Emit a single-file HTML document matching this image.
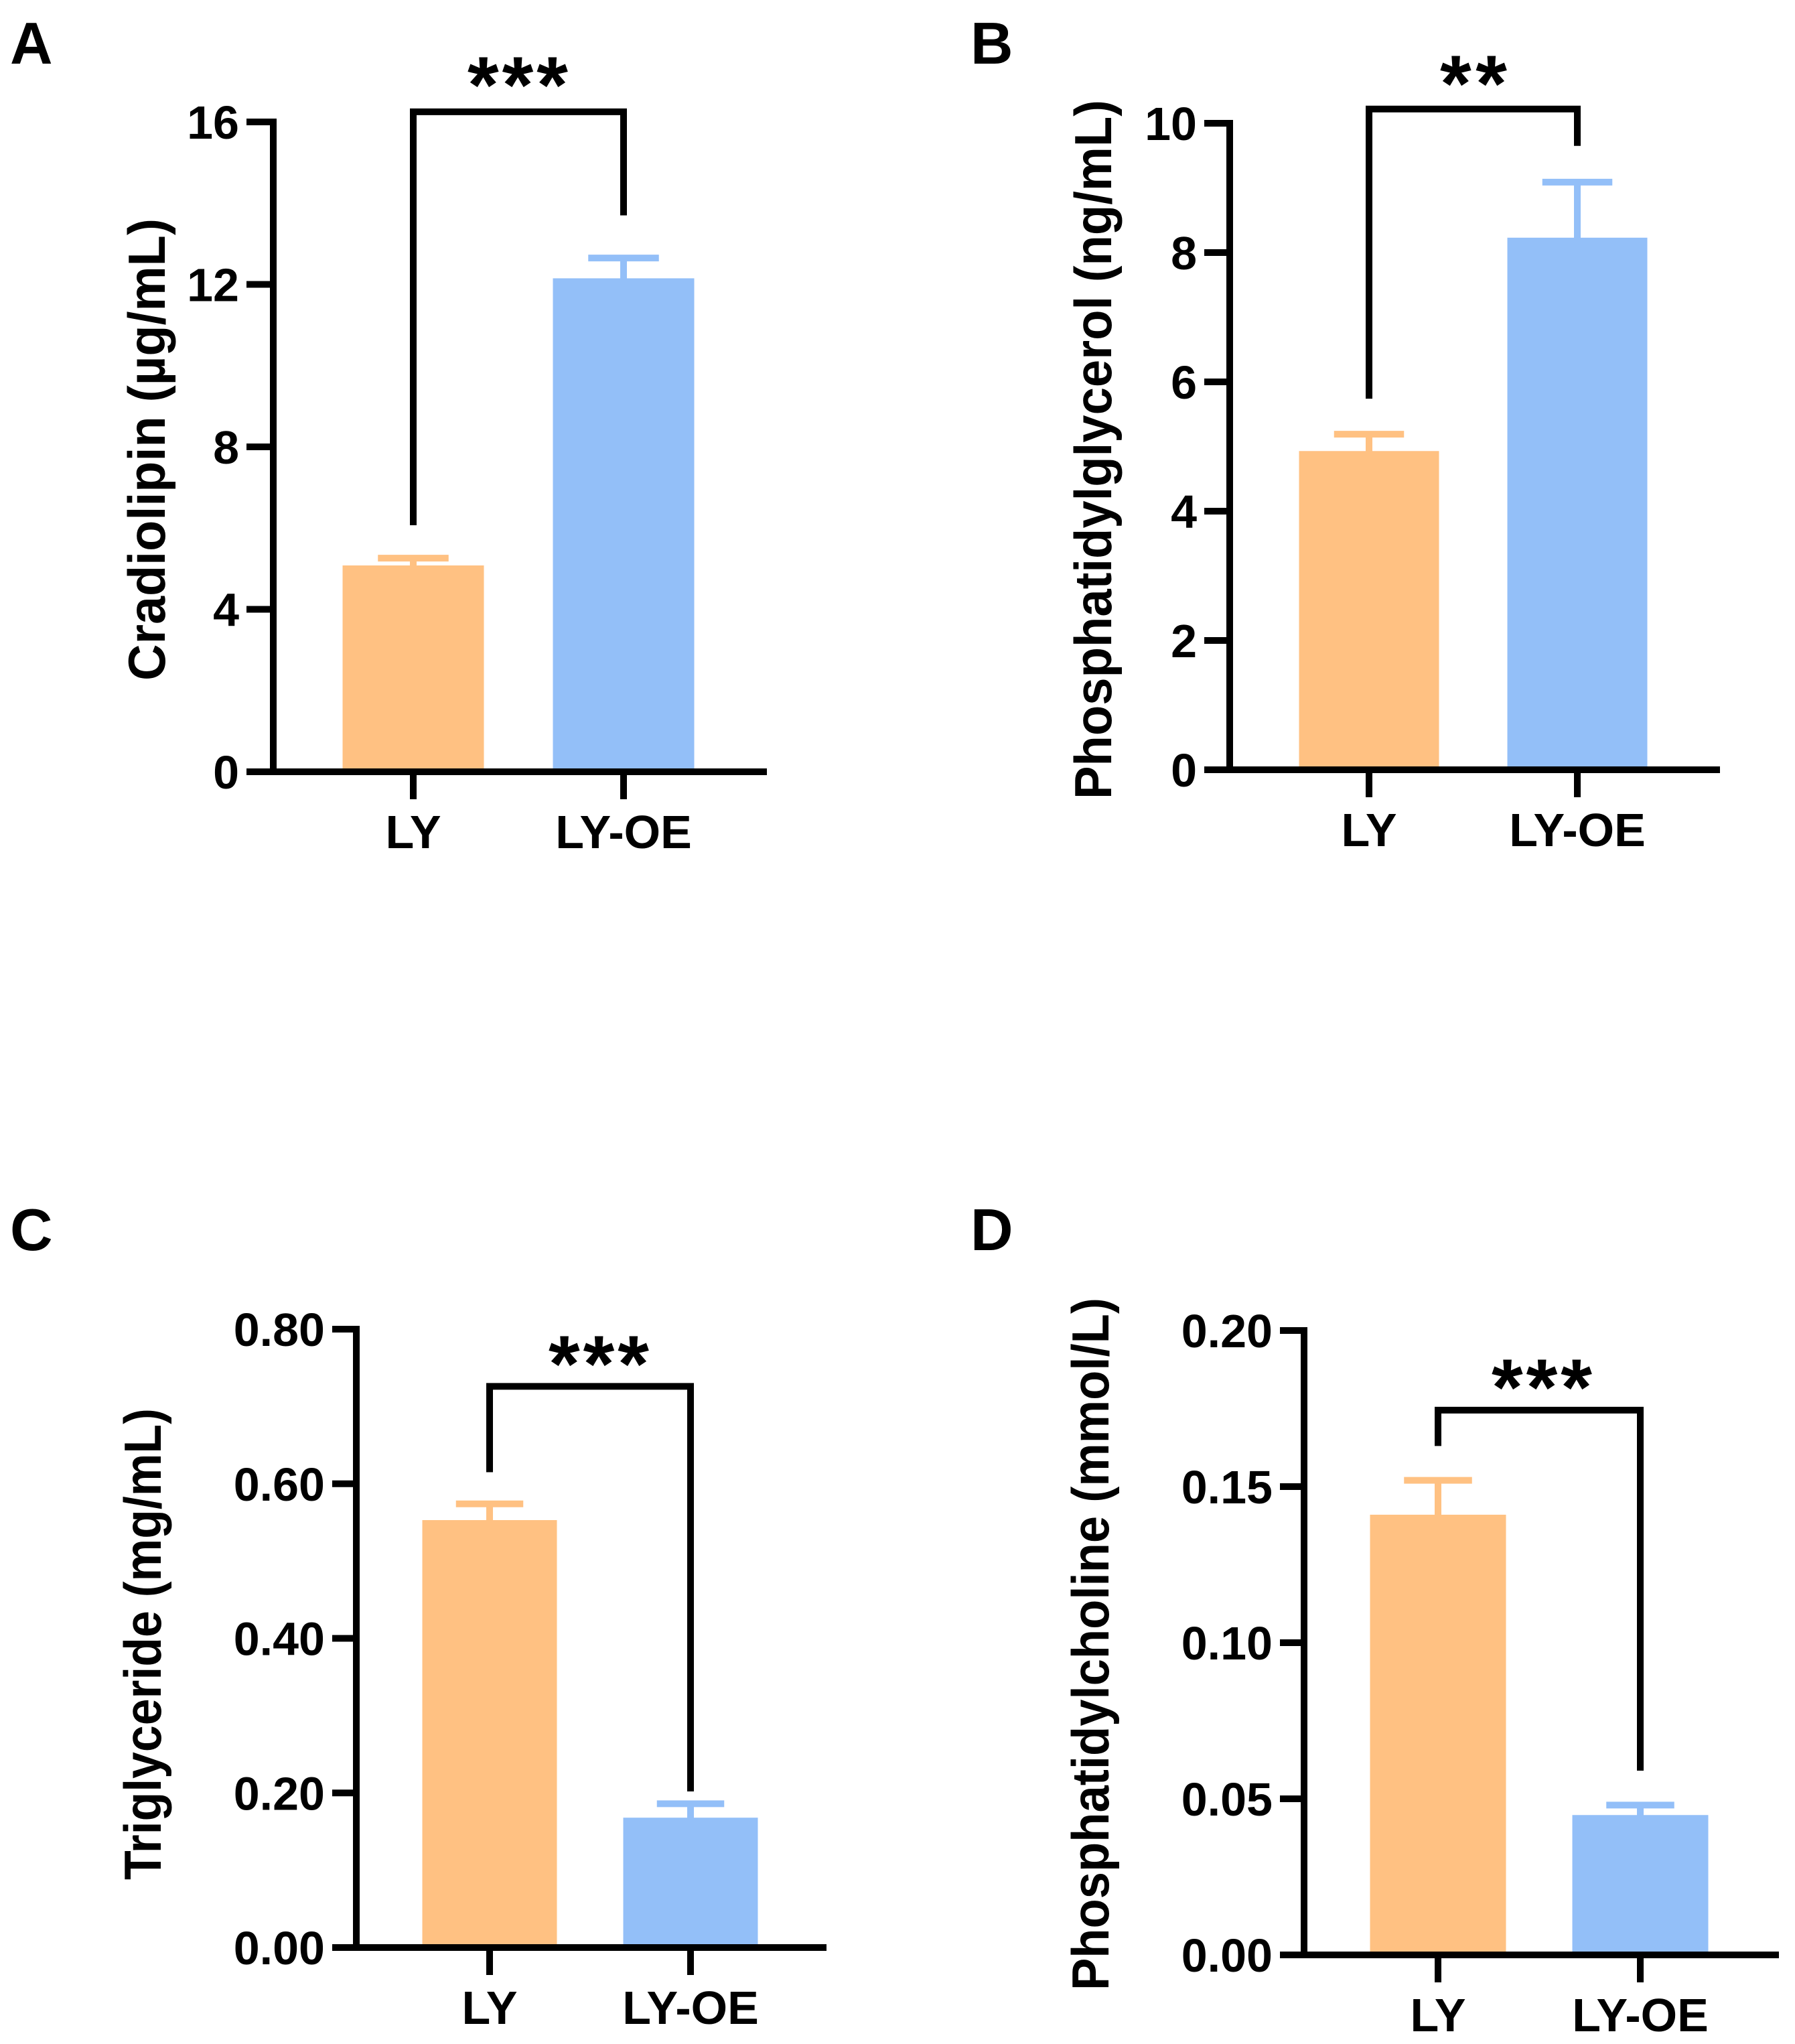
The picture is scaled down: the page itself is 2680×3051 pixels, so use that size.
<!DOCTYPE html>
<html><head><meta charset="utf-8"><style>
html,body{margin:0;padding:0;background:#fff;}
svg{display:block;font-family:"Liberation Sans",Arial,sans-serif;font-weight:bold;}
</style></head><body>
<svg id="fig" width="2680" height="3051" viewBox="0 0 2680 3051" xmlns="http://www.w3.org/2000/svg">
<rect width="2680" height="3051" fill="#fff"/>
</svg>
<script>
const categories = ["LY", "LY-OE"];
// Panel A
const aValues = [5.08, 12.15];
const aErrors = [0.18, 0.5];
const aTicks = [0, 4, 8, 12, 16];
const aTickLabels = ["0", "4", "8", "12", "16"];
const aBracket = [6.07, 13.7, 16.25];
// Panel B
const bValues = [4.93, 8.23];
const bErrors = [0.26, 0.86];
const bTicks = [0, 2, 4, 6, 8, 10];
const bTickLabels = ["0", "2", "4", "6", "8", "10"];
const bBracket = [5.74, 9.65, 10.22];
// Panel C
const cValues = [0.553, 0.168];
const cErrors = [0.021, 0.018];
const cTicks = [0, 0.2, 0.4, 0.6, 0.8];
const cTickLabels = ["0.00", "0.20", "0.40", "0.60", "0.80"];
const cBracket = [0.615, 0.202, 0.726];
// Panel D
const dValues = [0.141, 0.0448];
const dErrors = [0.011, 0.0032];
const dTicks = [0, 0.05, 0.1, 0.15, 0.2];
const dTickLabels = ["0.00", "0.05", "0.10", "0.15", "0.20"];
const dBracket = [0.163, 0.059, 0.1745];

const NS = "http://www.w3.org/2000/svg";
const svg = document.getElementById("fig");
const colors = ["#FFC182", "#93BFF8"];
function mk(tag, attrs, parent) {
  const e = document.createElementNS(NS, tag);
  for (const k in attrs) e.setAttribute(k, attrs[k]);
  (parent || svg).appendChild(e);
  return e;
}
function panel(cfg) {
  const g = mk("g", {});
  
  
  const y = v => cfg.y0 - (v - 0) / cfg.max * (cfg.y0 - cfg.yTop);
  const L = mk("text", {x: cfg.letterX, y: cfg.letterY, "font-size": 88}, g);
  L.textContent = cfg.letter;
  
  
  cfg.values.forEach((v, i) => {
    const cx = cfg.cats[i];
    const bw = cfg.barW;
    const r = mk("rect", {x: cx - bw / 2, y: y(v), width: bw, height: cfg.y0 - y(v), fill: colors[i]}, g);
    
    
    const top = y(v + cfg.errors[i]);
    const el = mk("path", {d: `M${cx},${y(v)+2}V${top}M${cx - bw/4},${top}H${cx + bw/4}`, stroke: colors[i], "stroke-width": 10, fill: "none"}, g);
    
    
  });
  const ax = mk("path", {d: `M${cfg.axX},${cfg.yTop - 5}V${cfg.y0}M${cfg.tickL},${cfg.y0}H${cfg.xEnd}`, stroke: "#000", "stroke-width": 10, fill: "none"}, g);
  
  
  cfg.ticks.forEach((t, i) => {
    const ty = y(t);
    const tk = mk("line", {x1: cfg.tickL, x2: cfg.axX, y1: ty, y2: ty, stroke: "#000", "stroke-width": 10}, g);
    
    
    const tl = mk("text", {x: cfg.tickL - 11, y: ty + 25, "font-size": 70, "text-anchor": "end"}, g);
    tl.textContent = cfg.tickLabels[i];
    
    
  });
  categories.forEach((c, i) => {
    const cx = cfg.cats[i];
    const tk = mk("line", {x1: cx, x2: cx, y1: cfg.y0, y2: cfg.y0 + 41, stroke: "#000", "stroke-width": 10}, g);
    
    
    const t = mk("text", {x: cx, y: cfg.y0 + 114, "font-size": 70, "text-anchor": "middle"}, g);
    t.textContent = c;
    
    
  });
  const tt = mk("text", {x: 0, y: 0, "font-size": 78, "text-anchor": "middle", transform: `translate(${cfg.titleX + 28},${cfg.titleY}) rotate(-90)`, textLength: cfg.titleLen, lengthAdjust: "spacingAndGlyphs"}, g);
  tt.textContent = cfg.title;
  
  
  const [lb, rb, by] = cfg.bracket;
  const x1 = cfg.cats[0], x2 = cfg.cats[1];
  const br = mk("path", {d: `M${x1},${y(lb)}V${y(by)}H${x2}V${y(rb)}`, stroke: "#000", "stroke-width": 10, fill: "none", "stroke-linejoin": "miter"}, g);
  
  
  const n = cfg.stars.length;
  const st = mk("text", {x: cfg.starX - n * 25, y: cfg.starY + 62, "font-size": 120, textLength: n * 50, lengthAdjust: "spacing"}, g);
  st.textContent = cfg.stars;
  
  
}
panel({name: "panel-a", letter: "A", letterX: 15, letterY: 95, values: aValues, errors: aErrors, ticks: aTicks, tickLabels: aTickLabels, max: 16,
  y0: 1152, yTop: 182, axX: 408, tickL: 368, xEnd: 1145, cats: [617, 931], barW: 211,
  title: "Cradiolipin (µg/mL)", titleX: 218, titleY: 671, titleLen: 690, bracket: aBracket, stars: "***", starX: 773, starY: 106});
panel({name: "panel-b", letter: "B", letterX: 1449, letterY: 95, values: bValues, errors: bErrors, ticks: bTicks, tickLabels: bTickLabels, max: 10,
  y0: 1149, yTop: 184, axX: 1836, tickL: 1798, xEnd: 2568, cats: [2044, 2355], barW: 209,
  title: "Phosphatidylglycerol (ng/mL)", titleX: 1631, titleY: 671, titleLen: 1044, bracket: bBracket, stars: "**", starX: 2200, starY: 104});
panel({name: "panel-c", letter: "C", letterX: 15, letterY: 1866, values: cValues, errors: cErrors, ticks: cTicks, tickLabels: cTickLabels, max: 0.8,
  y0: 2907, yTop: 1984, axX: 532, tickL: 496, xEnd: 1234, cats: [731, 1031], barW: 201,
  title: "Triglyceride (mg/mL)", titleX: 212, titleY: 2454, titleLen: 704, bracket: cBracket, stars: "***", starX: 894, starY: 2015});
panel({name: "panel-d", letter: "D", letterX: 1449, letterY: 1866, values: dValues, errors: dErrors, ticks: dTicks, tickLabels: dTickLabels, max: 0.2,
  y0: 2918, yTop: 1986, axX: 1947, tickL: 1911, xEnd: 2656, cats: [2147, 2449], barW: 203,
  title: "Phosphatidylcholine (mmol/L)", titleX: 1627, titleY: 2454, titleLen: 1034, bracket: dBracket, stars: "***", starX: 2302, starY: 2050});
</script>
</body></html>
